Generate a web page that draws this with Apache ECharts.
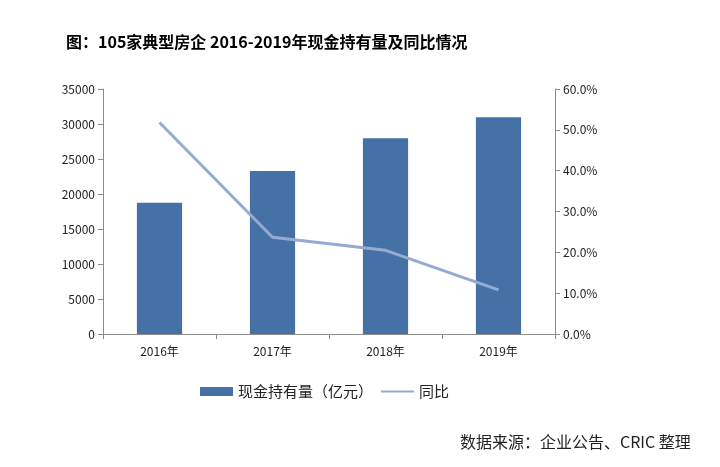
<!DOCTYPE html>
<html>
<head>
<meta charset="utf-8">
<script src="https://cdn.jsdelivr.net/npm/echarts@6/dist/echarts.min.js"></script>
<style>
  html, body { margin: 0; padding: 0; background: #fff; }
  #chart { width: 720px; height: 467px; }
</style>
</head>
<body>
<div id="chart"></div>
<script>
// data
const years = ["2016年", "2017年", "2018年", "2019年"];
const cash = [18750, 23300, 27950, 30950];
const yoy = [51.8, 23.7, 20.5, 10.8];

const axisColor = "#8c8c8c";
const textColor = "#222";
const font = "'Noto Sans CJK SC', sans-serif";

const chart = echarts.init(document.getElementById("chart"));
chart.setOption({
  backgroundColor: "#fff",
  animation: false,
  textStyle: { fontFamily: font },
  title: [
    {
      text: "图：105家典型房企 2016-2019年现金持有量及同比情况",
      left: 61,
      top: 29,
      textStyle: { fontSize: 16, fontWeight: "bold", color: "#000", fontFamily: font }
    },
    {
      text: "数据来源：企业公告、CRIC 整理",
      left: 455,
      top: 429,
      textStyle: { fontSize: 16, fontWeight: "normal", color: textColor, fontFamily: font }
    }
  ],
  legend: {
    top: 379,
    left: 195,
    itemWidth: 33,
    itemHeight: 9,
    itemGap: 8,
    textStyle: { fontSize: 15, color: textColor },
    data: [
      { name: "现金持有量（亿元）", icon: "rect" },
      // thin bar as line icon (extra moveTo points keep it thin inside the 9px box)
      { name: "同比", icon: "path://M0,0 M0,9 M0,3.5 L33,3.5 L33,5.5 L0,5.5 Z" }
    ]
  },
  grid: { left: 103, right: 165, top: 89, bottom: 133 },
  xAxis: {
    type: "category",
    data: years,
    axisLine: { lineStyle: { color: axisColor } },
    axisTick: { show: true, length: 5, lineStyle: { color: axisColor } },
    axisLabel: { color: textColor, fontSize: 12, margin: 11 }
  },
  yAxis: [
    {
      type: "value",
      min: 0,
      max: 35000,
      interval: 5000,
      splitLine: { show: false },
      axisLine: { show: true, lineStyle: { color: axisColor } },
      axisTick: { show: true, length: 5, lineStyle: { color: axisColor } },
      axisLabel: { color: textColor, fontSize: 12, margin: 8, formatter: v => String(v) }
    },
    {
      type: "value",
      min: 0,
      max: 60,
      interval: 10,
      position: "right",
      splitLine: { show: false },
      axisLine: { show: true, lineStyle: { color: axisColor } },
      axisTick: { show: true, length: 5, lineStyle: { color: axisColor } },
      axisLabel: {
        color: textColor,
        fontSize: 12,
        margin: 8,
        formatter: v => v.toFixed(1) + "%"
      }
    }
  ],
  series: [
    {
      name: "现金持有量（亿元）",
      type: "bar",
      data: cash,
      barWidth: "40%",
      itemStyle: { color: "#4571a7" }
    },
    {
      name: "同比",
      type: "line",
      yAxisIndex: 1,
      data: yoy,
      symbol: "none",
      lineStyle: { color: "#95abd1", width: 3 },
      itemStyle: { color: "#95abd1" }
    }
  ]
});
</script>
</body>
</html>
